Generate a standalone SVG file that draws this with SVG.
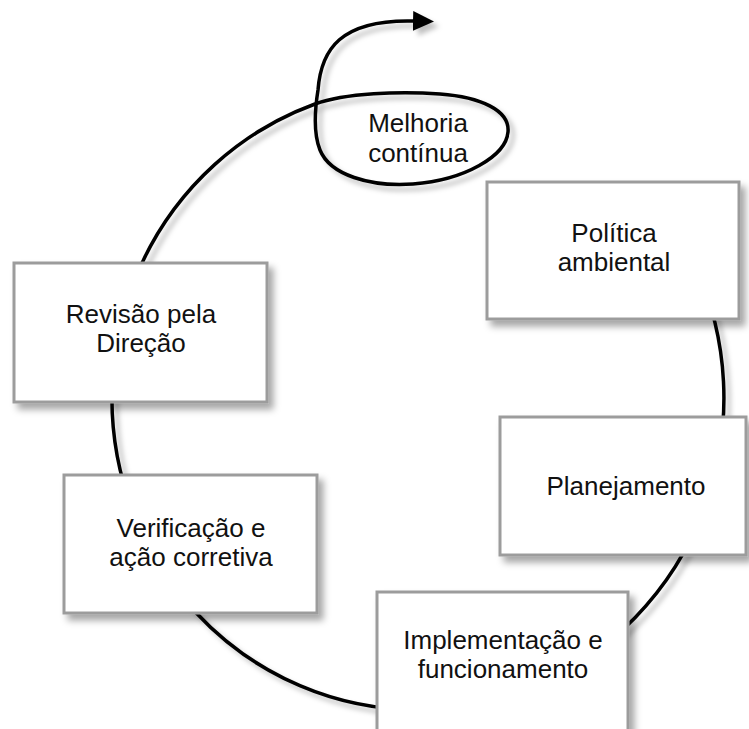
<svg xmlns="http://www.w3.org/2000/svg" width="749" height="729" viewBox="0 0 749 729">
  <defs>
    <filter id="shadow" x="-20%" y="-20%" width="140%" height="140%">
      <feDropShadow dx="5" dy="6" stdDeviation="3.5" flood-color="#000" flood-opacity="0.35"/>
    </filter>
    <filter id="lineShadow" x="-10%" y="-10%" width="120%" height="120%">
      <feDropShadow dx="5" dy="5" stdDeviation="2.5" flood-color="#000" flood-opacity="0.25"/>
    </filter>
    <marker id="arrow" viewBox="0 -10 21 20" refX="1" refY="0" markerWidth="21" markerHeight="20" markerUnits="userSpaceOnUse" orient="auto">
      <path d="M0,-10 L21,0 L0,10 z" fill="#000"/>
    </marker>
    <style>
      .box { fill: #fff; stroke: #9c9c9c; stroke-width: 3; filter: url(#shadow); }
      .label { font-family: "Liberation Sans", Arial, sans-serif; font-size: 26px; fill: #111; text-anchor: middle; }
      .cycle { fill: none; stroke: #000; stroke-width: 3.5; stroke-linecap: round; filter: url(#lineShadow); }
    </style>
  </defs>

  <rect width="749" height="729" fill="#fff"/>

  <!-- cycle line: large loop through all stages, closing into the improvement loop and arrow -->
  <g id="connectors">
    <path class="cycle" marker-end="url(#arrow)"
      d="M695.3,266.1
         A306,312 0 1 1 315,104
         C345,93 400,91 440,94
         C480,97 510,110 508,132
         C506,156 465,180 413,184
         C370,187 330,175 320,150
         C314,135 314,115 318,90
         C321,50 340,19 414,21"/>
  </g>

  <g id="melhoria">
    <text class="label" x="418" y="132">Melhoria</text>
    <text class="label" x="418" y="162">contínua</text>
  </g>

  <g id="politica">
    <rect class="box" x="487" y="182" width="252" height="137"/>
    <text class="label" x="614" y="242">Política</text>
    <text class="label" x="614" y="271">ambiental</text>
  </g>

  <g id="revisao">
    <rect class="box" x="14" y="263" width="253" height="139"/>
    <text class="label" x="141" y="323">Revisão pela</text>
    <text class="label" x="141" y="352">Direção</text>
  </g>

  <g id="planejamento">
    <rect class="box" x="500" y="417" width="246" height="138"/>
    <text class="label" x="626" y="495">Planejamento</text>
  </g>

  <g id="verificacao">
    <rect class="box" x="64" y="475" width="253" height="138"/>
    <text class="label" x="191" y="537">Verificação e</text>
    <text class="label" x="191" y="566">ação corretiva</text>
  </g>

  <g id="implementacao">
    <rect class="box" x="377" y="592" width="251" height="150"/>
    <text class="label" x="503" y="649">Implementação e</text>
    <text class="label" x="503" y="678">funcionamento</text>
  </g>
</svg>
